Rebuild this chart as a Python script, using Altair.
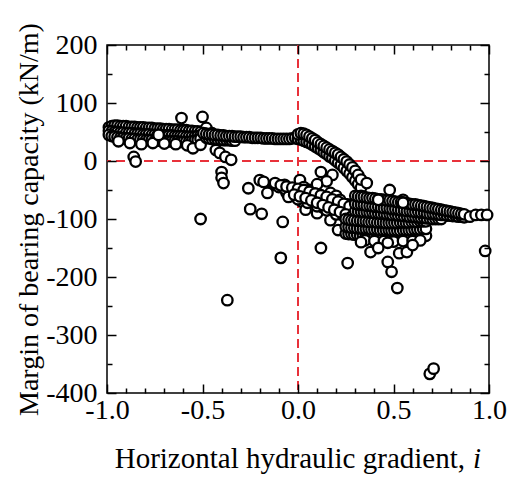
import altair as alt
import pandas as pd

# ---------------- data ----------------
# left dense cluster, i = -1.0 .. -0.5 (three overlapping rows)
XA = [-0.99, -0.975, -0.96, -0.945, -0.93, -0.915, -0.90, -0.885, -0.87, -0.855, -0.84, -0.825, -0.81, -0.795, -0.78,
      -0.765, -0.75, -0.735, -0.72, -0.705, -0.69, -0.675, -0.66, -0.645, -0.63, -0.615, -0.60, -0.585, -0.57, -0.555,
      -0.54, -0.525, -0.51]
A1_y = [58, 60, 61, 61, 60, 60, 60, 59, 59, 59, 58, 58, 58, 57, 57, 57, 56, 56, 56, 55, 55, 55, 54, 54, 54, 53, 53, 53,
        52, 52, 51, 51, 50]
A2_y = [52, 51, 50, 50, 49, 49, 48, 48, 48, 47, 47, 47, 46, 46, 46, 45, 45, 45, 45, 44, 44, 44, 44, 43, 43, 43, 43, 42,
        42, 42, 42, 43, 44]
A3_y = [45, 43, 42, 41, 40, 40, 39, 39, 38, 38, 37, 37, 37, 36, 36, 36, 35, 35, 35, 35, 34, 34, 34, 34, 34, 33, 33, 33,
        33, 34, 35, 36, 38]
# open circles along the lower edge of the cluster and scattered points nearby
A4_x = [-0.94, -0.88, -0.82, -0.76, -0.70, -0.64, -0.58, -0.61, -0.50, -0.86, -0.85, -0.48, -0.45, -0.55, -0.51, -0.43,
        -0.41, -0.38, -0.35, -0.40, -0.40, -0.39, -0.73]
A4_y = [34, 31, 29, 31, 30, 29, 27, 74, 76, 7, -1, 57, 48, 22, 28, 19, 14, 7, 2, -19, -29, -38, 45]

# band running towards i = 0
XB = [-0.495, -0.48, -0.465, -0.45, -0.435, -0.42, -0.405, -0.39, -0.375, -0.36, -0.345, -0.33, -0.315, -0.30, -0.285,
      -0.27, -0.255, -0.24, -0.225, -0.21, -0.195, -0.18, -0.165, -0.15, -0.135, -0.12, -0.105, -0.09, -0.075, -0.06,
      -0.045, -0.03, -0.015]
B_y = [48, 47, 46, 46, 45, 45, 44, 44, 43, 43, 43, 42, 42, 42, 41, 41, 41, 40, 40, 40, 40, 39, 39, 39, 39, 38, 38, 38,
       38, 38, 38, 39, 40]
B2_x = [-0.48, -0.465, -0.45, -0.435, -0.42, -0.405, -0.39, -0.375, -0.36, -0.345, -0.33]
B2_y = [40, 39, 38, 38, 37, 37, 36, 36, 36, 35, 35]

# bump at i = 0 and steep descent (two rows)
XC = [0.0, 0.015, 0.03, 0.045, 0.06, 0.075, 0.09, 0.105, 0.12, 0.135, 0.15, 0.165, 0.18, 0.195, 0.21, 0.225, 0.24,
      0.255, 0.27, 0.285, 0.30, 0.315, 0.33]
C2_y = [38, 37, 35, 33, 31, 28, 25, 22, 19, 15, 12, 8, 5, 1, -3, -7, -12, -17, -22, -28, -34, -40, -46]
C1_y = [46, 48, 47, 45, 42, 39, 36, 32, 29, 26, 23, 20, 17, 14, 11, 7, 3, -1, -6, -11, -17, -24, -32]

# lower band (open circles) from i = -0.2 to 0.55 and isolated points
D_x = [-0.20, -0.13, -0.07, -0.06, -0.06, 0.01, 0.03, 0.06, 0.08, 0.12, 0.18, 0.15, 0.10, 0.05, 0.00,
       -0.03, 0.02, 0.07, 0.11, 0.14, 0.17, 0.20, 0.22, 0.04, 0.10, 0.13, 0.17, 0.19, 0.21, 0.24,
       0.26, 0.27, 0.29, -0.08, 0.12, 0.26, 0.36, 0.41, 0.48, 0.55, 0.33, 0.30,
       -0.09, -0.51, -0.37, -0.25, -0.19, -0.26, -0.18, -0.16, -0.12,
       -0.10, -0.07, -0.04, -0.01, 0.02, 0.05, 0.08, 0.11, 0.14, 0.17, 0.20, 0.23, 0.26, 0.29,
       -0.05, 0.00, 0.05, 0.10, 0.15, 0.20, 0.25]
D_y = [-33, -41, -41, -55, -47, -33, -45, -50, -50, -19, -24, -35, -40, -60, -55,
       -60, -70, -65, -60, -70, -55, -60, -67, -84, -90, -80, -102, -85, -119, -95,
       -75, -110, -90, -105, -150, -176, -38, -67, -50, -67, -60, -70,
       -167, -100, -240, -83, -91, -47, -36, -55, -41,
       -45, -48, -50, -52, -55, -58, -62, -66, -70, -74, -78, -82, -86, -90,
       -62, -66, -72, -78, -85, -92, -100]
# further open circles inside that lower band
D2_x = [-0.12, -0.09, -0.06, -0.03, 0.00, 0.03, 0.06, 0.09, 0.12, 0.15, 0.18, 0.21, 0.24, 0.27,
        -0.02, 0.01, 0.04, 0.07, 0.10, 0.13, 0.16, 0.19, 0.22, 0.25, 0.28]
D2_y = [-38, -42, -44, -46, -48, -50, -53, -56, -59, -62, -66, -70, -74, -78,
        -58, -61, -64, -68, -72, -76, -80, -84, -88, -92, -96]

# lower dense cluster, i = 0.25 .. 0.68 (three rows)
XF = [0.25, 0.265, 0.28, 0.295, 0.31, 0.325, 0.34, 0.355, 0.37, 0.385, 0.40, 0.415, 0.43, 0.445, 0.46, 0.475, 0.49,
      0.505, 0.52, 0.535, 0.55, 0.565, 0.58, 0.595, 0.61, 0.625, 0.64, 0.655, 0.67]
F3_y = [-125, -126, -126, -127, -127, -128, -128, -129, -129, -129, -130, -130, -130, -131, -131, -131, -131, -132,
        -132, -132, -132, -131, -131, -131, -131, -130, -130, -130, -129]
F2_y = [-113, -114, -115, -115, -116, -116, -117, -117, -117, -118, -118, -118, -119, -119, -119, -119, -120, -120,
        -120, -120, -119, -119, -119, -119, -118, -118, -118, -117, -117]
F1_y = [-100, -101, -102, -102, -103, -103, -104, -104, -105, -105, -105, -106, -106, -106, -107, -107, -107, -107,
        -107, -106, -106, -106, -106, -105, -105, -105, -104, -104, -104]
F4_x = [0.35, 0.40, 0.45, 0.50, 0.55, 0.60, 0.64]
F4_y = [-137, -138, -138, -139, -138, -138, -137]

# upper tapering band, i = 0.3 .. 0.87 (three rows) and points at its tip
XE = [0.30, 0.315, 0.33, 0.345, 0.36, 0.375, 0.39, 0.405, 0.42, 0.435, 0.45, 0.465, 0.48, 0.495, 0.51, 0.525, 0.54,
      0.555, 0.57, 0.585, 0.60, 0.615, 0.63, 0.645, 0.66, 0.675, 0.69, 0.705, 0.72, 0.735, 0.75, 0.765, 0.78, 0.795,
      0.81, 0.825, 0.84, 0.855, 0.87]
E3_y = [-86, -87, -87, -88, -88, -89, -89, -90, -90, -91, -91, -92, -92, -93, -93, -94, -94, -95, -95, -96, -96, -97,
        -97, -98, -98, -99, -99, -100, -100, -100, -100]
E2_y = [-74, -75, -75, -76, -77, -77, -78, -79, -79, -80, -81, -81, -82, -83, -83, -84, -85, -85, -86, -86, -87, -88,
        -88, -89, -89, -90, -91, -91, -92, -92, -93, -93, -94, -94, -95, -95, -96, -96, -97]
E1_y = [-60, -61, -62, -62, -63, -64, -64, -65, -66, -66, -67, -68, -68, -69, -70, -71, -71, -72, -73, -74, -75, -75,
        -76, -77, -78, -79, -80, -81, -82, -83, -84, -85, -86, -87, -88, -89, -90, -91, -92]
E4_x = [0.90, 0.93, 0.96, 0.99, 0.98, 0.42, 0.55]
E4_y = [-96, -93, -93, -93, -155, -67, -72]

# isolated points below the lower cluster
G_x = [0.38, 0.47, 0.53, 0.57, 0.47, 0.49, 0.52, 0.42, 0.33, 0.60, 0.69, 0.71]
G_y = [-157, -141, -159, -157, -174, -191, -219, -150, -140, -145, -367, -358]

# axes
x_major = [-1.0, -0.5, 0.0, 0.5, 1.0]
x_minor = [-1.0, -0.9, -0.8, -0.7, -0.6, -0.5, -0.4, -0.3, -0.2, -0.1, 0.0,
           0.1, 0.2, 0.3, 0.4, 0.5, 0.6, 0.7, 0.8, 0.9, 1.0]
y_major = [-400, -300, -200, -100, 0, 100, 200]
y_minor = [-400, -350, -300, -250, -200, -150, -100, -50, 0, 50, 100, 150, 200]
x_title = "Horizontal hydraulic gradient,"
x_title_var = "i"
y_title = "Margin of bearing capacity (kN/m)"

# ---------------- chart ----------------
groups = [
    (XA, A1_y), (XA, A2_y), (XA, A3_y), (A4_x, A4_y),
    (B2_x, B2_y), (XB, B_y),
    (XC, C2_y), (XC, C1_y),
    (D_x, D_y), (D2_x, D2_y),
    (XF, F3_y), (XF, F2_y), (XF, F1_y), (F4_x, F4_y),
    (XE[:len(E3_y)], E3_y), (XE, E2_y), (XE, E1_y), (E4_x, E4_y),
    (G_x, G_y),
]
xs, ys = [], []
for gx, gy in groups:
    xs += list(gx)
    ys += list(gy)
df = pd.DataFrame({"i": xs, "m": ys})

W, H = 382, 348
FONT = "Liberation Serif"
FS = 28
RED = "#e8313a"
xscale = alt.Scale(domain=[-1, 1], nice=False, zero=False)
yscale = alt.Scale(domain=[-400, 200], nice=False, zero=False)

tick_common = dict(labels=False, domain=False, grid=False, title=None,
                   tickColor="black", tickWidth=1.5, zindex=1)
x_tsize = {"condition": {"test": "abs(round(datum.value*10)) % 5 === 0", "value": 9}, "value": 5}
y_tsize = {"condition": {"test": "datum.value % 100 === 0", "value": 9}, "value": 5}

tk = pd.DataFrame({"i": [0.0], "m": [0.0]})

rule_x = alt.Chart(pd.DataFrame({"v": [0.0]})).mark_rule(color=RED, strokeDash=[9, 5], strokeWidth=2).encode(
    x=alt.X("v:Q", scale=xscale, axis=None))
rule_y = alt.Chart(pd.DataFrame({"v": [0.0]})).mark_rule(color=RED, strokeDash=[9, 5], strokeWidth=2).encode(
    y=alt.Y("v:Q", scale=yscale, axis=None))

xt_bottom = alt.Chart(tk).mark_point(opacity=0).encode(
    x=alt.X("i:Q", scale=xscale, axis=alt.Axis(orient="top", offset=-H, values=x_minor, tickSize=x_tsize, **tick_common)))
xt_top = alt.Chart(tk).mark_point(opacity=0).encode(
    x=alt.X("i:Q", scale=xscale, axis=alt.Axis(orient="bottom", offset=-H, values=x_minor, tickSize=x_tsize, **tick_common)))
yt_left = alt.Chart(tk).mark_point(opacity=0).encode(
    y=alt.Y("m:Q", scale=yscale, axis=alt.Axis(orient="right", offset=-W, values=y_minor, tickSize=y_tsize, **tick_common)))
yt_right = alt.Chart(tk).mark_point(opacity=0).encode(
    y=alt.Y("m:Q", scale=yscale, axis=alt.Axis(orient="left", offset=-W, values=y_minor, tickSize=y_tsize, **tick_common)))

pts = alt.Chart(df).mark_point(shape="circle", filled=True, fill="white", stroke="black",
                               strokeWidth=2.3, size=110, opacity=1).encode(
    x=alt.X("i:Q", scale=xscale, axis=alt.Axis(
        orient="bottom", values=x_major, ticks=False, domain=False, grid=False, title=None, labelFlush=False,
        labelExpr="datum.value < 0 ? '-' + format(-datum.value, '.1f') : format(datum.value, '.1f')",
        labelFont=FONT, labelFontSize=FS, labelColor="black", labelPadding=3)),
    y=alt.Y("m:Q", scale=yscale, axis=alt.Axis(
        orient="left", values=y_major, ticks=False, domain=False, grid=False, labelFlush=False,
        labelExpr="datum.value < 0 ? '-' + format(-datum.value, 'd') : format(datum.value, 'd')",
        labelFont=FONT, labelFontSize=FS, labelColor="black", labelPadding=10,
        title=y_title, titleFont=FONT, titleFontSize=FS, titleFontWeight="normal",
        titleColor="black", titlePadding=2)),
)

ttl = alt.Chart(pd.DataFrame({"t": [x_title]})).mark_text(
    font=FONT, fontSize=29, align="right", baseline="alphabetic", color="black").encode(
    text="t:N", x=alt.value(358), y=alt.value(423))
ttl_i = alt.Chart(pd.DataFrame({"t": [x_title_var]})).mark_text(
    font=FONT, fontSize=29, fontStyle="italic", align="left", baseline="alphabetic", color="black").encode(
    text="t:N", x=alt.value(366), y=alt.value(423))

chart = alt.layer(rule_x, rule_y, pts, xt_bottom, xt_top, yt_left, yt_right, ttl, ttl_i).resolve_axis(
    x="independent", y="independent"
).properties(
    width=W, height=H,
    autosize=alt.AutoSizeParams(type="none"),
    padding={"left": 99, "top": 37, "right": 18, "bottom": 84},
).configure_view(stroke="black", strokeWidth=1.5)

chart.save("out.html", embed_options={"renderer": "svg", "actions": False})
